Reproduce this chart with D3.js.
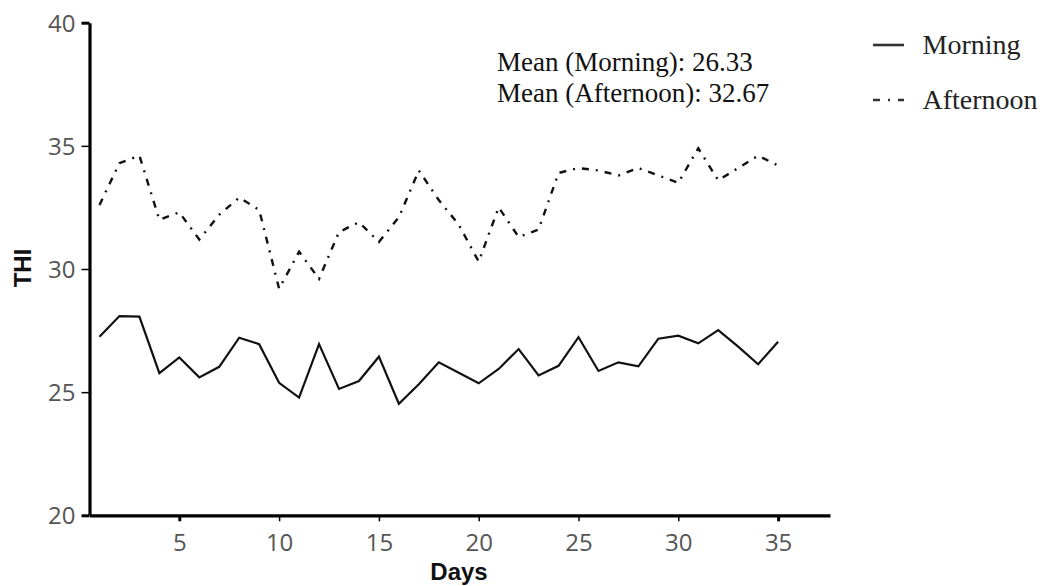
<!DOCTYPE html>
<html>
<head>
<meta charset="utf-8">
<script src="https://cdn.jsdelivr.net/npm/d3@7"></script>
<style>
  html, body { margin: 0; padding: 0; background: #fff; }
  svg { display: block; }
</style>
</head>
<body>
<svg id="chart" width="1044" height="586"></svg>
<script>
const days = d3.range(1, 36);
const morning = [27.25, 28.09, 28.07, 25.77, 26.41, 25.60, 26.03, 27.21, 26.95, 25.38,
  24.78, 26.95, 25.13, 25.45, 26.44, 24.53, 25.32, 26.21, 25.79, 25.36,
  25.94, 26.75, 25.68, 26.07, 27.23, 25.86, 26.21, 26.05, 27.17, 27.29,
  26.98, 27.52, 26.85, 26.13, 27.05];
const afternoon = [32.6, 34.3, 34.6, 32.0, 32.3, 31.2, 32.2, 32.9, 32.4, 29.2,
  30.7, 29.6, 31.5, 31.9, 31.1, 32.1, 34.0, 32.8, 31.8, 30.3,
  32.5, 31.3, 31.6, 33.9, 34.1, 34.0, 33.8, 34.1, 33.8, 33.5,
  34.9, 33.6, 34.1, 34.6, 34.2];
const xTicks = [5, 10, 15, 20, 25, 30, 35];
const yTicks = [20, 25, 30, 35, 40];
const seriesNames = ["Morning", "Afternoon"];
const annotations = ["Mean (Morning): 26.33", "Mean (Afternoon): 32.67"];

const svg = d3.select("#chart");
const x = d3.scaleLinear().domain([0.5, 37.6]).range([89.5, 830]);
const y = d3.scaleLinear().domain([20, 40]).range([515.3, 22.7]);

const tickFont = "'Open Sans', 'DejaVu Sans', sans-serif";

// Y axis
const gy = svg.append("g").attr("transform", `translate(${x.range()[0]},0)`)
  .call(d3.axisLeft(y).tickValues(yTicks).tickSize(8).tickSizeOuter(0).tickPadding(6));
gy.select(".domain").attr("stroke", "#000").attr("stroke-width", 3.2);
gy.selectAll(".tick line").attr("stroke", "#000")
  .attr("stroke-width", d => (d === 20 || d === 40) ? 3 : 1.5);
gy.selectAll(".tick text").attr("font-family", tickFont).attr("font-size", 24)
  .attr("fill", "#555").attr("dy", "0.36em");

// X axis
const gx = svg.append("g").attr("transform", `translate(0,${y.range()[0]})`)
  .call(d3.axisBottom(x).tickValues(xTicks).tickSize(6).tickSizeOuter(0).tickPadding(13));
gx.select(".domain").attr("stroke", "#000").attr("stroke-width", 3.2);
gx.selectAll(".tick line").attr("stroke", "#000")
  .attr("stroke-width", d => (d === 5 || d === 35) ? 3 : 1.5);
gx.selectAll(".tick text").attr("font-family", tickFont).attr("font-size", 24)
  .attr("fill", "#555");

// Axis titles
svg.append("text").attr("x", 459).attr("y", 580).attr("text-anchor", "middle")
  .attr("font-family", "'Liberation Sans', Arial, sans-serif").attr("font-weight", "bold")
  .attr("font-size", 24).attr("fill", "#111").text("Days");
svg.append("text").attr("transform", "translate(31,268) rotate(-90)").attr("text-anchor", "middle")
  .attr("font-family", "'Liberation Sans', Arial, sans-serif").attr("font-weight", "bold")
  .attr("font-size", 24).attr("fill", "#111").text("THI");

// Lines
const line = vals => d3.line().x((d, i) => x(days[i])).y(d => y(d))(vals);
svg.append("path").attr("d", line(morning)).attr("fill", "none")
  .attr("stroke", "#111").attr("stroke-width", 2.2).attr("stroke-linejoin", "miter");
svg.append("path").attr("d", line(afternoon)).attr("fill", "none")
  .attr("stroke", "#111").attr("stroke-width", 2.4).attr("stroke-dasharray", "7,7,2,7");

// Annotation
const serif = "'Liberation Serif', 'Times New Roman', serif";
annotations.forEach((t, i) => {
  svg.append("text").attr("x", 497).attr("y", 71 + i * 31)
    .attr("font-family", serif).attr("font-size", 27).attr("fill", "#111").text(t);
});

// Legend
const legY = [45, 100];
const legDash = [null, "7,8,2,8"];
seriesNames.forEach((n, i) => {
  svg.append("line").attr("x1", 873).attr("x2", 904).attr("y1", legY[i]).attr("y2", legY[i])
    .attr("stroke", "#333").attr("stroke-width", 2.6)
    .attr("stroke-dasharray", legDash[i]);
  svg.append("text").attr("x", 922.5).attr("y", legY[i] + 9)
    .attr("font-family", serif).attr("font-size", 28).attr("fill", "#222").text(n);
});
</script>
</body>
</html>
